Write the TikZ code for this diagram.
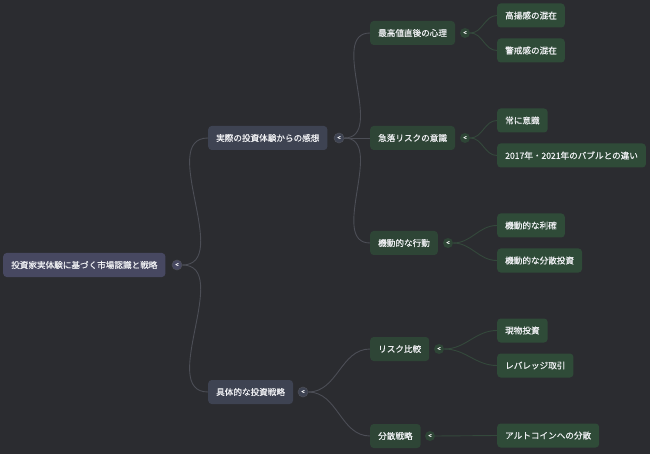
\documentclass[tikz,border=0pt]{standalone}
\usepackage{fontspec}
\setmainfont{Noto Sans CJK JP}
\newfontfamily\medfont{Noto Sans CJK JP}[FakeBold=0.5]
\definecolor{bg}{HTML}{2B2C30}
\definecolor{rootc}{HTML}{474861}
\definecolor{lvone}{HTML}{3E4352}
\definecolor{lvtwo}{HTML}{2E4536}
\definecolor{lvthree}{HTML}{2F4B38}
\definecolor{edgeg}{HTML}{4C4E56}
\definecolor{edgegr}{HTML}{34493C}
\definecolor{txt}{HTML}{EEEFF2}
\tikzset{
  box/.style={rounded corners=3.5pt, text=txt, font=\medfont\fontsize{8.6}{10}\selectfont,
    minimum height=24pt, inner xsep=8pt, inner ysep=0pt, anchor=west},
  rootbox/.style={box, fill=rootc},
  onebox/.style={box, fill=lvone},
  twobox/.style={box, fill=lvtwo},
  threebox/.style={box, fill=lvthree},
  knob/.style={circle, minimum size=10pt, inner sep=0pt, text=white,
    font=\medfont\fontsize{6}{6}\selectfont},
  knobg/.style={knob, fill=lvone, draw=edgeg, line width=0.6pt},
  knobr/.style={knob, fill=rootc, draw=edgeg, line width=0.6pt},
  knobgr/.style={knob, fill=lvtwo},
  edge/.style={draw=edgeg, line width=0.9pt},
  gedge/.style={draw=edgegr, line width=0.9pt},
}
\begin{document}
\begin{tikzpicture}[x=1pt,y=-1pt]
\fill[bg] (0,0) rectangle (650,454);
\useasboundingbox (0,0) rectangle (650,454);

\node[rootbox] (root) at (3,265) {投資家実体験に基づく市場認識と戦略};
\node[knobr] (kroot) at (177,265) {<};

\node[onebox] (a) at (208,138) {実際の投資体験からの感想};
\node[knobg] (ka) at (339,138) {<};
\node[onebox] (b) at (208,392) {具体的な投資戦略};
\node[knobg] (kb) at (303,392) {<};

\node[twobox] (a1) at (370,33) {最高値直後の心理};
\node[knobgr] (ka1) at (465,33) {<};
\node[twobox] (a2) at (370,138) {急落リスクの意識};
\node[knobgr] (ka2) at (465,138) {<};
\node[twobox] (a3) at (370,243) {機動的な行動};
\node[knobgr] (ka3) at (448,243) {<};
\node[twobox] (b1) at (370,349) {リスク比較};
\node[knobgr] (kb1) at (439,349) {<};
\node[twobox] (b2) at (370,436) {分散戦略};
\node[knobgr] (kb2) at (430,436) {<};

\node[threebox] (a11) at (497,15.5) {高揚感の混在};
\node[threebox] (a12) at (497,50.5) {警戒感の混在};
\node[threebox] (a21) at (497,120.5) {常に意識};
\node[threebox] (a22) at (497,155.5) {2017年・2021年のバブルとの違い};
\node[threebox] (a31) at (497,225.5) {機動的な利確};
\node[threebox] (a32) at (497,260.5) {機動的な分散投資};
\node[threebox] (b11) at (497,330.5) {現物投資};
\node[threebox] (b12) at (497,365.5) {レバレッジ取引};
\node[threebox] (b21) at (497,435.5) {アルトコインへの分散};

\draw[edge] (kroot.east) to[out=0,in=180] (a.west);
\draw[edge] (kroot.east) to[out=0,in=180] (b.west);
\draw[edge] (ka.east) to[out=0,in=180] (a1.west);
\draw[edge] (ka.east) -- (a2.west);
\draw[edge] (ka.east) to[out=0,in=180] (a3.west);
\draw[edge] (kb.east) to[out=0,in=180] (b1.west);
\draw[edge] (kb.east) to[out=0,in=180] (b2.west);

\draw[gedge] (ka1.east) to[out=0,in=180] (a11.west);
\draw[gedge] (ka1.east) to[out=0,in=180] (a12.west);
\draw[gedge] (ka2.east) to[out=0,in=180] (a21.west);
\draw[gedge] (ka2.east) to[out=0,in=180] (a22.west);
\draw[gedge] (ka3.east) to[out=0,in=180] (a31.west);
\draw[gedge] (ka3.east) to[out=0,in=180] (a32.west);
\draw[gedge] (kb1.east) to[out=0,in=180] (b11.west);
\draw[gedge] (kb1.east) to[out=0,in=180] (b12.west);
\draw[gedge] (kb2.east) -- (b21.west);
\end{tikzpicture}
\end{document}
